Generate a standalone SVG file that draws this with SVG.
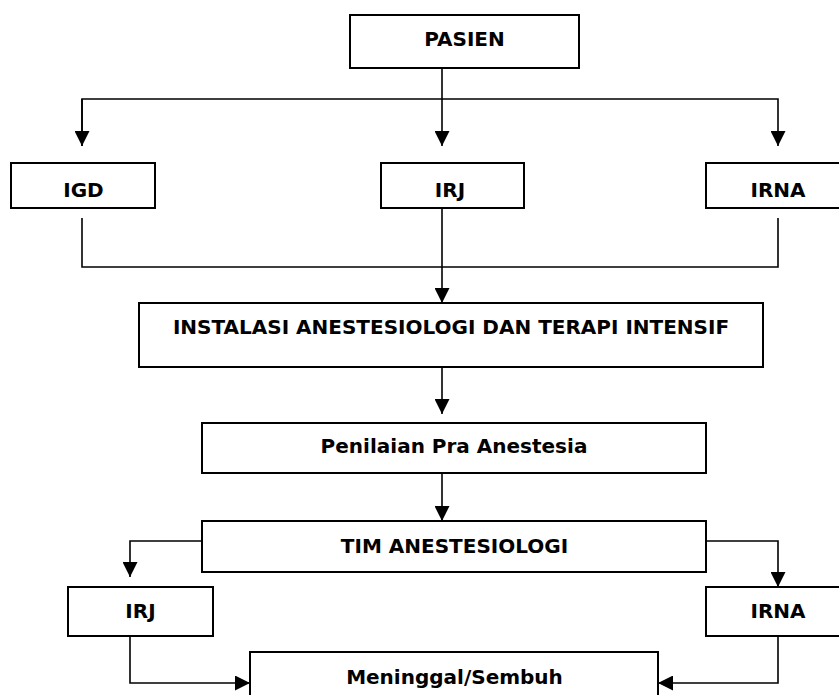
<svg xmlns="http://www.w3.org/2000/svg" width="839" height="695" viewBox="0 0 839 695">
<style>
.box{fill:#fff;stroke:#000;stroke-width:2}
.t{font-family:"DejaVu Sans",Verdana,sans-serif;font-weight:bold;font-size:20px;text-anchor:middle;fill:#000}
.ln{fill:none;stroke:#000;stroke-width:1.6}
</style>
<defs>
<marker id="ah" viewBox="0 0 15 15" refX="15" refY="7.5" markerWidth="15" markerHeight="15" markerUnits="userSpaceOnUse" orient="auto">
<path d="M0,0 L15,7.5 L0,15 Z" fill="#000"/>
</marker>
</defs>
<rect width="839" height="695" fill="#fff"/>
<g id="connectors">
<path class="ln" d="M442,68 V146" marker-end="url(#ah)"/>
<path class="ln" d="M82,146 V99 H778 V146" marker-end="url(#ah)"/>
<path class="ln" d="M82,99 V146" marker-end="url(#ah)"/>
<path class="ln" d="M82,218 V267 H778 V218"/>
<path class="ln" d="M442,208 V303" marker-end="url(#ah)"/>
<path class="ln" d="M442,367 V414" marker-end="url(#ah)"/>
<path class="ln" d="M442,473 V521" marker-end="url(#ah)"/>
<path class="ln" d="M202,541 H130 V577" marker-end="url(#ah)"/>
<path class="ln" d="M706,541 H778 V587" marker-end="url(#ah)"/>
<path class="ln" d="M130,636 V683 H250" marker-end="url(#ah)"/>
<path class="ln" d="M778,636 V683 H658" marker-end="url(#ah)"/>
</g>
<g id="pasien"><rect class="box" x="350" y="15" width="229" height="53"/><text class="t" x="464.5" y="46">PASIEN</text></g>
<g id="igd"><rect class="box" x="11" y="163" width="144" height="45"/><text class="t" x="83.5" y="197">IGD</text></g>
<g id="irj1"><rect class="box" x="381" y="163" width="143" height="45"/><text class="t" x="450" y="197">IRJ</text></g>
<g id="irna1"><rect class="box" x="706" y="163" width="144" height="45"/><text class="t" x="778" y="197">IRNA</text></g>
<g id="instalasi"><rect class="box" x="139" y="303" width="624" height="64"/><text class="t" x="451" y="334">INSTALASI ANESTESIOLOGI DAN TERAPI INTENSIF</text></g>
<g id="penilaian"><rect class="box" x="202" y="423" width="504" height="50"/><text class="t" x="454" y="453">Penilaian Pra Anestesia</text></g>
<g id="tim"><rect class="box" x="202" y="521" width="504" height="51"/><text class="t" x="454.5" y="553">TIM ANESTESIOLOGI</text></g>
<g id="irj2"><rect class="box" x="68" y="587" width="145" height="49"/><text class="t" x="140.5" y="618">IRJ</text></g>
<g id="irna2"><rect class="box" x="706" y="587" width="144" height="49"/><text class="t" x="778" y="618">IRNA</text></g>
<g id="meninggal"><rect class="box" x="250" y="652" width="408" height="60"/><text class="t" x="454.5" y="684">Meninggal/Sembuh</text></g>
</svg>
